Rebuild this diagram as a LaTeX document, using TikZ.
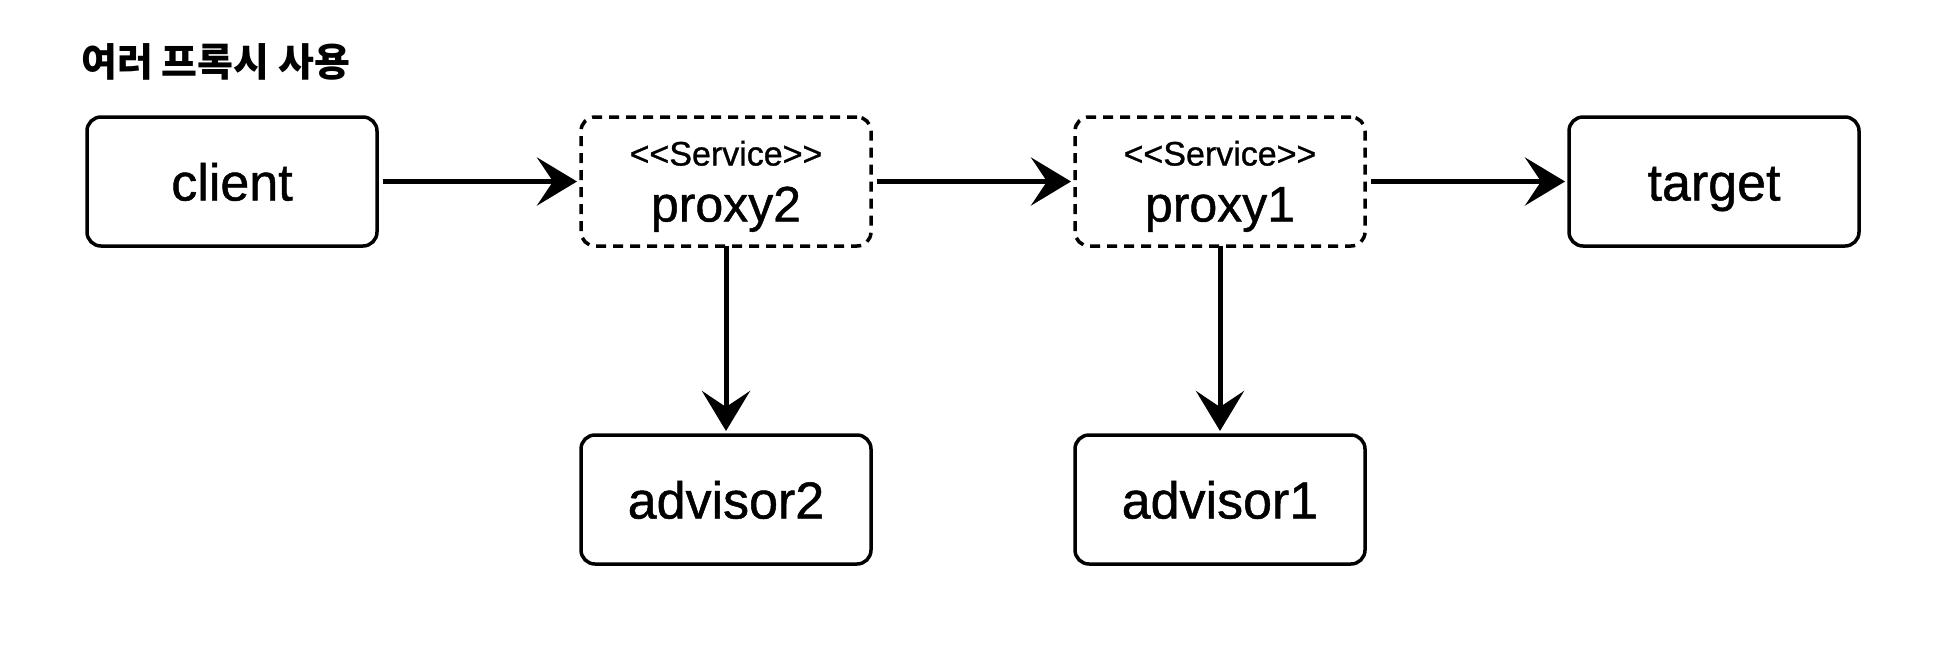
\documentclass[tikz,border=0pt]{standalone}
\usepackage{fontspec}
\setmainfont{Liberation Sans}[FakeBold=0.9]
\newfontfamily\krfont{Noto Sans CJK KR}
\usetikzlibrary{positioning,arrows.meta}

\tikzset{
  box/.style={draw, line width=3.5pt, rounded corners=14pt, outer sep=0pt, inner sep=0pt,
    minimum width=290pt, minimum height=129pt, text height=38pt, text depth=0pt,
    font=\fontsize{52}{56}\selectfont},
  proxybox/.style={box, dash pattern=on 10pt off 7pt, align=center, text height=80pt,
    font=\fontsize{50}{56}\selectfont},
  flow/.style={line width=5pt, -{Stealth[length=40pt,width=48pt,inset=16pt]},
    shorten <=6pt, shorten >=4pt}
}
\newcommand{\stereo}{{\fontsize{34}{40}\selectfont <\kern0pt<Service>\kern0pt>}}

\begin{document}
\begin{tikzpicture}
	\useasboundingbox (0,0) rectangle (1958pt,-646pt);
	\node[anchor=west, inner sep=0pt, font=\krfont\bfseries\fontsize{39}{44}\selectfont] (title) at (81pt,-62pt) {여러 프록시 사용};
	% top row
	\node[box] (client) at (232pt,-181.5pt) {client};
	\node[proxybox, right=204pt of client] (proxy2) {\stereo\\proxy2};
	\node[proxybox, right=204pt of proxy2] (proxy1) {\stereo\\proxy1};
	\node[box, right=204pt of proxy1] (target) {target};
	% advisors
	\node[box, below=189pt of proxy2] (advisor2) {advisor2};
	\node[box, below=189pt of proxy1] (advisor1) {advisor1};
	\draw[flow] (client) -- (proxy2);
	\draw[flow] (proxy2) -- (proxy1);
	\draw[flow] (proxy1) -- (target);
	\draw[flow, shorten <=0pt] (proxy2) -- (advisor2);
	\draw[flow, shorten <=0pt] (proxy1) -- (advisor1);
\end{tikzpicture}
\end{document}
